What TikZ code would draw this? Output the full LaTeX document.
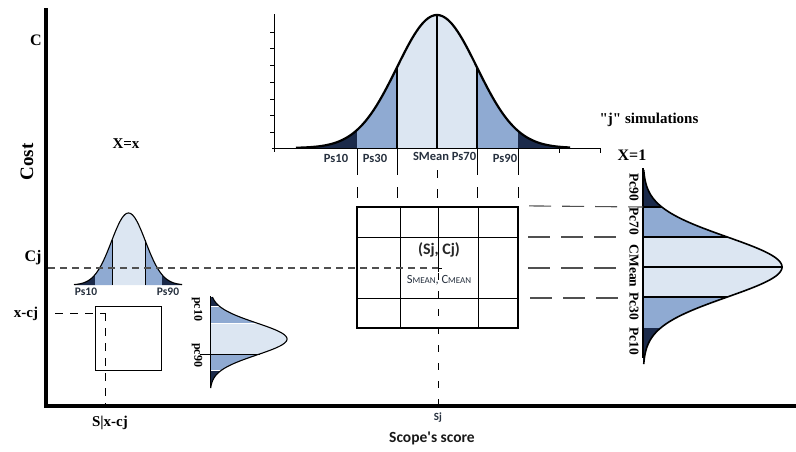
\documentclass[tikz,border=0pt]{standalone}
\usepackage{fontspec}
\setmainfont{Liberation Serif}
\newfontfamily\calib{Carlito}
\definecolor{dk}{HTML}{1B2A4A}
\definecolor{md}{HTML}{8FAAD2}
\definecolor{lt}{HTML}{DCE6F2}
\definecolor{lbl}{HTML}{26303E}
\definecolor{dsh}{HTML}{505050}
\tikzset{
  serlab/.style={font=\bfseries\fontsize{#1}{#1}\selectfont, inner sep=0pt},
  sanlab/.style={font=\calib\bfseries\fontsize{#1}{#1}\selectfont, text=lbl, inner sep=0pt},
  bellout/.style={line width=#1, line join=round},
  divider/.style={line width=1.4},
  dashgrey/.style={dsh, line width=1.1, dash pattern=on 7pt off 5pt},
  dashlong/.style={dsh, line width=1.1, dash pattern=on 22pt off 11pt},
  dashblk/.style={black, line width=1, dash pattern=on 8pt off 7pt},
}
\begin{document}
\begin{tikzpicture}[x=1pt,y=-1pt,
  declare function={
    tb(\x)=148-133*exp(-0.5*((\x-437)/40)*((\x-437)/40));
    rb(\y)=643+139*exp(-0.5*((\y-267)/30)*((\y-267)/30));
    lb(\x)=285-72*exp(-0.5*((\x-128.5)/17)*((\x-128.5)/17));
    sb(\y)=210+77*exp(-0.5*((\y-339)/16)*((\y-339)/16));
  }]
\useasboundingbox (0,0) rectangle (796,451);

% ---------- top bell ----------
\fill[dk] (298,148) -- plot[domain=298:357,samples=30] (\x,{tb(\x)}) -- (357,148) -- cycle;
\fill[md] (357,148) -- plot[domain=357:397,samples=20] (\x,{tb(\x)}) -- (397,148) -- cycle;
\fill[lt] (397,148) -- plot[domain=397:477,samples=40] (\x,{tb(\x)}) -- (477,148) -- cycle;
\fill[md] (477,148) -- plot[domain=477:518,samples=20] (\x,{tb(\x)}) -- (518,148) -- cycle;
\fill[dk] (518,148) -- plot[domain=518:570,samples=30] (\x,{tb(\x)}) -- (570,148) -- cycle;
\draw[divider] (397,148) -- (397,{tb(397)});
\draw[divider] (437,148) -- (437,{tb(437)});
\draw[divider] (477,148) -- (477,{tb(477)});
\draw[bellout=2.2] plot[domain=296:570,samples=140,smooth] (\x,{tb(\x)});
% small axes of top bell
\draw[line width=1] (274,14) -- (274,152);
\foreach \t in {32,48,65,82,99,115,132} \draw[line width=0.8] (270,\t) -- (274,\t);
\draw[line width=1] (272,148) -- (600,148);
\draw[line width=0.8] (559,148) -- (559,153) (600,148) -- (600,153);
% lines down from top bell to the box
\foreach \q in {357,397,477,518} {
  \draw[line width=1] (\q,148) -- (\q,175);
  \draw[line width=1] (\q,187) -- (\q,198);
}
\draw[line width=1] (437,170) -- (437,178);
\draw[line width=1] (437,189) -- (437,198);
\node[sanlab=12.5] (ps10) at (336,158) {Ps10};
\node[sanlab=12.5] (ps30) at (375,158) {Ps30};
\node[sanlab=12.5] (smean) at (431,156) {SMean};
\node[sanlab=12.5] (ps70) at (464,156) {Ps70};
\node[sanlab=12.5] (ps90) at (505,158) {Ps90};

% ---------- central box ----------
\draw[line width=1] (400,207) -- (400,328);
\draw[line width=1] (478,207) -- (478,328);
\draw[line width=1] (438,207) -- (438,268);
\draw[line width=1] (357,237) -- (518,237);
\draw[line width=1] (357,298) -- (518,298);
\node[draw, line width=2.2, minimum width=161pt, minimum height=121pt, inner sep=0pt] (box) at (437.5,267.5) {};
\coordinate (cross) at (438,268);
\draw[line width=1] (434,268) -- (442,268) (438,264) -- (438,272);
\node[sanlab=16, text=black!85] (sjcj) at (439,250) {(Sj, Cj)};
\node[font=\calib\fontsize{12.5}{13}\selectfont, text=lbl, inner sep=0pt] (meanlab) at (439,280)
  {S{\fontsize{9}{10}\selectfont MEAN}, C{\fontsize{9}{10}\selectfont MEAN}};

% ---------- right bell ----------
\fill[dk] (643,170) -- plot[domain=170:207,samples=20] ({rb(\x)},\x) -- (643,207) -- cycle;
\fill[md] (643,207) -- plot[domain=207:237,samples=20] ({rb(\x)},\x) -- (643,237) -- cycle;
\fill[lt] (643,237) -- plot[domain=237:297,samples=40] ({rb(\x)},\x) -- (643,297) -- cycle;
\fill[md] (643,297) -- plot[domain=297:328,samples=20] ({rb(\x)},\x) -- (643,328) -- cycle;
\fill[dk] (643,328) -- plot[domain=328:364,samples=20] ({rb(\x)},\x) -- (643,364) -- cycle;
\draw[divider] (643,207) -- ({rb(207)},207);
\draw[divider] (643,237) -- ({rb(237)},237);
\draw[divider] (643,267) -- ({rb(267)},267);
\draw[divider] (643,297) -- ({rb(297)},297);
\draw[bellout=1.6] plot[domain=170:364,samples=140,smooth] ({rb(\x)},\x);
\draw[line width=1.3] (643,168) -- (643,358);
\node[serlab=13.5, rotate=-90] (pc90) at (634,187) {Pc90};
\node[serlab=13.5, rotate=-90] (pc70) at (634,221) {Pc70};
\node[serlab=13.5, rotate=-90] (cmean) at (634,266) {CMean};
\node[serlab=13.5, rotate=-90] (pc30) at (634,306) {Pc30};
\node[serlab=13.5, rotate=-90] (pc10) at (634,341) {Pc10};
% dashed links box -> right bell
\coordinate (r207) at (643,207);
\coordinate (r268) at (622,268);
\coordinate (r298) at (622,298);
\draw[dashlong] (box.north east) ++(10,0) -- (r207);
\draw[dashlong] (528,237) -- (620,237);
\draw[dashlong] (528,268) -- (r268);
\draw[dashlong] (530,298) -- (r298);

% ---------- left bell ----------
\fill[dk] (75,285) -- plot[domain=75:95,samples=15] (\x,{lb(\x)}) -- (95,285) -- cycle;
\fill[md] (95,285) -- plot[domain=95:112,samples=15] (\x,{lb(\x)}) -- (112,285) -- cycle;
\fill[lt] (112,285) -- plot[domain=112:145,samples=30] (\x,{lb(\x)}) -- (145,285) -- cycle;
\fill[md] (145,285) -- plot[domain=145:162,samples=15] (\x,{lb(\x)}) -- (162,285) -- cycle;
\fill[dk] (162,285) -- plot[domain=162:182,samples=15] (\x,{lb(\x)}) -- (182,285) -- cycle;
\draw[line width=1] (112,285) -- (112,{lb(112)});
\draw[line width=1] (145,285) -- (145,{lb(145)});
\draw[bellout=1.1] plot[domain=74:182,samples=100,smooth] (\x,{lb(\x)});
\node[sanlab=11.5] (lps10) at (86,292) {Ps10};
\node[sanlab=11.5] (lps90) at (168,292) {Ps90};

% ---------- small rotated bell ----------
\fill[dk] (210,297) -- plot[domain=297:306,samples=10] ({sb(\x)},\x) -- (210,306) -- cycle;
\fill[md] (210,306) -- plot[domain=306:323,samples=15] ({sb(\x)},\x) -- (210,323) -- cycle;
\fill[lt] (210,323) -- plot[domain=323:354,samples=30] ({sb(\x)},\x) -- (210,354) -- cycle;
\fill[md] (210,354) -- plot[domain=354:370,samples=15] ({sb(\x)},\x) -- (210,370) -- cycle;
\fill[dk] (210,370) -- plot[domain=370:388,samples=10] ({sb(\x)},\x) -- (210,388) -- cycle;
\draw[white, line width=0.8] (210,306) -- ({sb(306)},306) (210,323) -- ({sb(323)},323) (210,370) -- ({sb(370)},370);
\draw[line width=1] (200,354) -- ({sb(354)},354);
\draw[bellout=1.1] plot[domain=297:388,samples=100,smooth] ({sb(\x)},\x);
\draw[line width=1] (210,296) -- (210,388);
\node[serlab=12, rotate=-90] (spc10) at (197,309) {pc10};
\node[serlab=12, rotate=-90] (spc90) at (197,355) {pc90};

% ---------- small box ----------
\node[draw, line width=0.9, minimum width=66pt, minimum height=64pt, inner sep=0pt] (sbox) at (128,338) {};

% ---------- main axes ----------
\coordinate (o) at (46,406);
\coordinate (ytop) at (46,8);
\coordinate (xend) at (796,406);
\draw[line width=3.5] (ytop) -- (o) -- (xend);

% ---------- dashed guide lines ----------
\coordinate (cjl) at (48,268);
\draw[dashgrey] (cjl) -- (cross);
\coordinate (xcjl) at (55,313);
\coordinate (xcjc) at (105,313);
\coordinate (xcjb) at (105,404);
\draw[dashblk] (xcjl) -- (xcjc);
\draw[dashblk] (xcjc) -- (xcjb);
\coordinate (sjb) at (438,404);
\draw[dashblk, dash pattern=on 7pt off 11pt] (438,273) -- (sjb);

% ---------- text labels ----------
\node[serlab=16] (lc) at (36,40) {C};
\node[serlab=19, rotate=90] (lcost) at (27,162) {Cost};
\node[serlab=16] (lcj) at (33,258) {Cj};
\node[serlab=15] (lxcj) at (26,314) {x-cj};
\node[serlab=15] (lsx) at (110,423) {S|x-cj};
\node[serlab=15] (lxx) at (126,144) {X=x};
\node[serlab=15] (ljs) at (649,120) {\textquotedbl j\textquotedbl\ simulations};
\node[serlab=16] (lx1) at (632,155) {X=1};
\node[sanlab=11] (lsj) at (438,418) {Sj};
\node[sanlab=15.5, text=black!90] (lscope) at (432,438) {Scope's score};
\end{tikzpicture}
\end{document}
